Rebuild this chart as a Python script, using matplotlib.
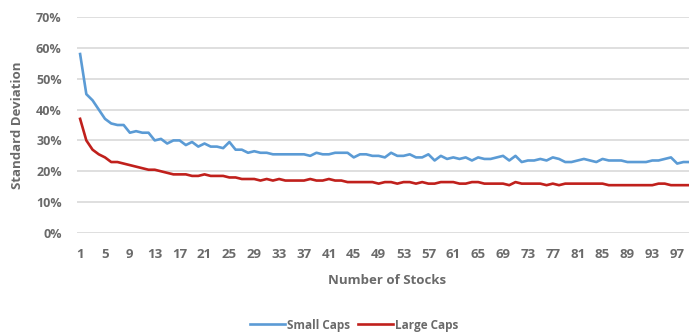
import matplotlib
matplotlib.use("Agg")
import matplotlib.pyplot as plt
from matplotlib.ticker import FuncFormatter

n_stocks = list(range(1, 100))
small_caps = [58, 45, 43, 40, 37, 35.5, 35, 35, 32.5, 33,
              32.5, 32.5, 30, 30.5, 29, 30, 30, 28.5, 29.5, 28,
              29, 28, 28, 27.5, 29.5, 27, 27, 26, 26.5, 26,
              26, 25.5, 25.5, 25.5, 25.5, 25.5, 25.5, 25, 26, 25.5,
              25.5, 26, 26, 26, 24.5, 25.5, 25.5, 25, 25, 24.5,
              26, 25, 25, 25.5, 24.5, 24.5, 25.5, 23.5, 25, 24,
              24.5, 24, 24.5, 23.5, 24.5, 24, 24, 24.5, 25, 23.5,
              25, 23, 23.5, 23.5, 24, 23.5, 24.5, 24, 23, 23,
              23.5, 24, 23.5, 23, 24, 23.5, 23.5, 23.5, 23, 23,
              23, 23, 23.5, 23.5, 24, 24.5, 22.5, 23, 23]
large_caps = [37, 30, 27, 25.5, 24.5, 23, 23, 22.5, 22, 21.5,
              21, 20.5, 20.5, 20, 19.5, 19, 19, 19, 18.5, 18.5,
              19, 18.5, 18.5, 18.5, 18, 18, 17.5, 17.5, 17.5, 17,
              17.5, 17, 17.5, 17, 17, 17, 17, 17.5, 17, 17,
              17.5, 17, 17, 16.5, 16.5, 16.5, 16.5, 16.5, 16, 16.5,
              16.5, 16, 16.5, 16.5, 16, 16.5, 16, 16, 16.5, 16.5,
              16.5, 16, 16, 16.5, 16.5, 16, 16, 16, 16, 15.5,
              16.5, 16, 16, 16, 16, 15.5, 16, 15.5, 16, 16,
              16, 16, 16, 16, 16, 15.5, 15.5, 15.5, 15.5, 15.5,
              15.5, 15.5, 15.5, 16, 16, 15.5, 15.5, 15.5, 15.5]
x_tick_labels = list(range(1, 100, 4))
y_ticks = [0, 10, 20, 30, 40, 50, 60, 70]

txt = "#6a6a6a"
plt.rcParams['font.family'] = ['Open Sans', 'DejaVu Sans']

fig = plt.figure(figsize=(6.89, 3.35), dpi=100)
ax = fig.add_axes([77/689, 1 - 233/335, 1 - 77/689, (233 - 17)/335])

ax.plot(n_stocks, small_caps, color="#5b9bd5", lw=1.9, label="Small Caps", zorder=3)
ax.plot(n_stocks, large_caps, color="#c0201c", lw=1.9, label="Large Caps", zorder=3)

ax.set_xlim(0.5, 98.9)
ax.set_ylim(0, 70)
ax.set_yticks(y_ticks)
ax.yaxis.set_major_formatter(FuncFormatter(lambda v, p: f"{int(v)}%"))
ax.set_xticks(x_tick_labels)
ax.set_xticklabels([str(v) for v in x_tick_labels])
ax.grid(axis='y', color="#d9d9d9", lw=1.2)
ax.set_axisbelow(True)
for s in ax.spines.values():
    s.set_visible(False)
ax.tick_params(length=0, colors=txt)
ax.tick_params(axis='y', pad=11, labelsize=9)
ax.tick_params(axis='x', pad=11, labelsize=9.5)
for lab in ax.get_xticklabels() + ax.get_yticklabels():
    lab.set_fontweight('bold')

fig.text(18/689, 1 - 125/335, "Standard Deviation", rotation=90, ha='center', va='center',
         color=txt, fontsize=9.5, fontweight='bold')
fig.text(387/689, 1 - 281/335, "Number of Stocks", ha='center', va='center',
         color=txt, fontsize=9.5, fontweight='bold')

leg = fig.legend(loc='center', bbox_to_anchor=(354/689, 1 - 325/335), ncol=2, frameon=False,
                 prop={'size': 8.5, 'weight': 'bold'}, handlelength=3.0, handletextpad=0.1,
                 columnspacing=0.7)
for t in leg.get_texts():
    t.set_color(txt)

fig.savefig("out.png", dpi=100)
